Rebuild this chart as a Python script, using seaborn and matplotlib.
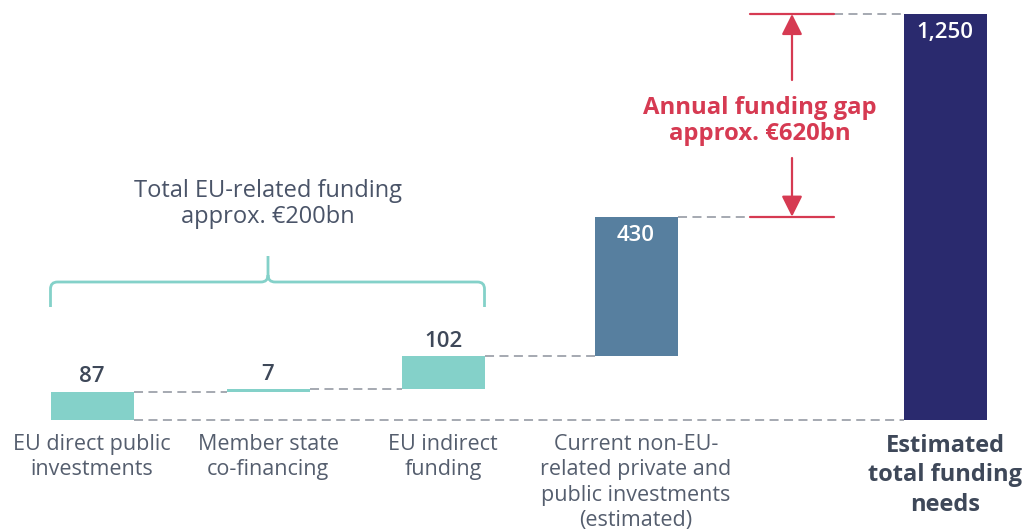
import matplotlib
matplotlib.use("Agg")
import matplotlib.pyplot as plt
from matplotlib.path import Path
from matplotlib.patches import PathPatch
import seaborn as sns

# data (EUR bn per year)
categories = ["EU direct public\ninvestments", "Member state\nco-financing", "EU indirect\nfunding",
              "Current non-EU-\nrelated private and\npublic investments\n(estimated)",
              "Estimated\ntotal funding\nneeds"]
values = [87, 7, 102, 430, 1250]
value_labels = ["87", "7", "102", "430", "1,250"]
gap_label = "Annual funding gap\napprox. €620bn"
eu_label = "Total EU-related funding\napprox. €200bn"

# layout (pixel-like x units, figure is 1034 px wide)
x_pos = [92, 268, 443, 636, 945]
bar_w = 83
gap_x = 792
colors = ["#84d1c9", "#84d1c9", "#84d1c9", "#577f9f", "#2a2a6e"]

# waterfall bottoms: running sum, last bar is the total
bottoms = [0, 0, 0, 0, 0]
for i in range(1, 4):
    bottoms[i] = bottoms[i - 1] + values[i - 1]
gap_low = bottoms[3] + values[3]
gap_high = values[4]

sns.set_theme(style="white")
plt.rcParams["font.family"] = ["Open Sans", "DejaVu Sans"]

fig = plt.figure(figsize=(10.34, 5.31), dpi=100)
ax = fig.add_axes([0, 0, 1, 1])

# pixel scale: baseline at y=420 px, 1250 reaches y=14 px
px_per_unit = (420 - 14) / 1250.0
def py2v(py):
    return (420 - py) / px_per_unit

sns.barplot(x=categories, y=values, hue=categories, palette=colors, legend=False,
            linewidth=0, saturation=1, ax=ax)
for patch, xp, b, v in zip(ax.patches, x_pos, bottoms, values):
    patch.set_x(xp - bar_w / 2)
    patch.set_width(bar_w)
    patch.set_y(b)
    patch.set_height(v)

ax.set_xlim(0, 1034)
ax.set_ylim(py2v(531), py2v(0))
ax.axis("off")

dash = dict(color="#9ea3ab", lw=1.3, dashes=(5, 3), zorder=0)
half = bar_w / 2
# baseline connector
ax.plot([x_pos[0] + half, x_pos[4] - half], [0, 0], **dash)
# step connectors
for i in range(3):
    lvl = bottoms[i] + values[i]
    ax.plot([x_pos[i] + half, x_pos[i + 1] - half], [lvl, lvl], **dash)
ax.plot([x_pos[3] + half, gap_x - 42], [gap_low, gap_low], **dash)
ax.plot([gap_x + 42, x_pos[4] - half], [gap_high, gap_high], **dash)

# value labels
dark = "#3e4859"
for i in range(3):
    ax.annotate(value_labels[i], (x_pos[i], bottoms[i] + values[i]), xytext=(0, 7),
                textcoords="offset points", ha="center", va="baseline",
                fontsize=16, fontweight="semibold", color=dark)
ax.annotate(value_labels[3], (x_pos[3], gap_low), xytext=(0, -13.5),
            textcoords="offset points", ha="center", va="center",
            fontsize=16, fontweight="semibold", color="white")
ax.annotate(value_labels[4], (x_pos[4], gap_high), xytext=(0, -13.5),
            textcoords="offset points", ha="center", va="center",
            fontsize=16, fontweight="semibold", color="white")

# category labels
for i in range(4):
    ax.text(x_pos[i], py2v(434), categories[i], ha="center", va="top",
            fontsize=15.5, color="#555e6e", linespacing=1.27)
ax.text(x_pos[4], py2v(434), categories[4], ha="center", va="top",
        fontsize=17, fontweight="bold", color=dark, linespacing=1.3)

# funding gap annotation
red = "#d63a52"
ax.plot([gap_x - 42, gap_x + 42], [gap_high, gap_high], color=red, lw=1.6)
ax.plot([gap_x - 42, gap_x + 42], [gap_low, gap_low], color=red, lw=1.6)
arr = dict(arrowstyle="-|>,head_length=0.9,head_width=0.45", color=red, lw=1.6,
           shrinkA=0, shrinkB=0, mutation_scale=14)
ax.annotate("", xy=(gap_x, gap_high), xytext=(gap_x, py2v(80)), arrowprops=arr)
ax.annotate("", xy=(gap_x, gap_low), xytext=(gap_x, py2v(158)), arrowprops=arr)
ax.text(760, py2v(121), gap_label, ha="center", va="center", fontsize=17.2,
        fontweight="bold", color=red, linespacing=1.15)

# brace over the EU-related bars
teal = "#84d1c9"
xl, xr, xm = x_pos[0] - half, x_pos[2] + half, x_pos[1]
yb, yh, yt, r = 307, 282, 256, 7
verts = [(xl, yb), (xl, yh + r), (xl, yh), (xl + r, yh), (xm - r, yh), (xm, yh), (xm, yh - r), (xm, yt),
         (xm, yh - r), (xm, yh), (xm + r, yh), (xr - r, yh), (xr, yh), (xr, yh + r), (xr, yb)]
codes = [Path.MOVETO, Path.LINETO, Path.CURVE3, Path.CURVE3, Path.LINETO, Path.CURVE3, Path.CURVE3,
         Path.LINETO, Path.MOVETO, Path.CURVE3, Path.CURVE3, Path.LINETO, Path.CURVE3, Path.CURVE3,
         Path.LINETO]
verts = [(vx, py2v(vy)) for vx, vy in verts]
ax.add_patch(PathPatch(Path(verts, codes), fill=False, edgecolor=teal, lw=2))
ax.text(xm, py2v(204), eu_label, ha="center", va="center", fontsize=17,
        color="#4a5468", linespacing=1.15)

fig.savefig("out.png", dpi=100)
